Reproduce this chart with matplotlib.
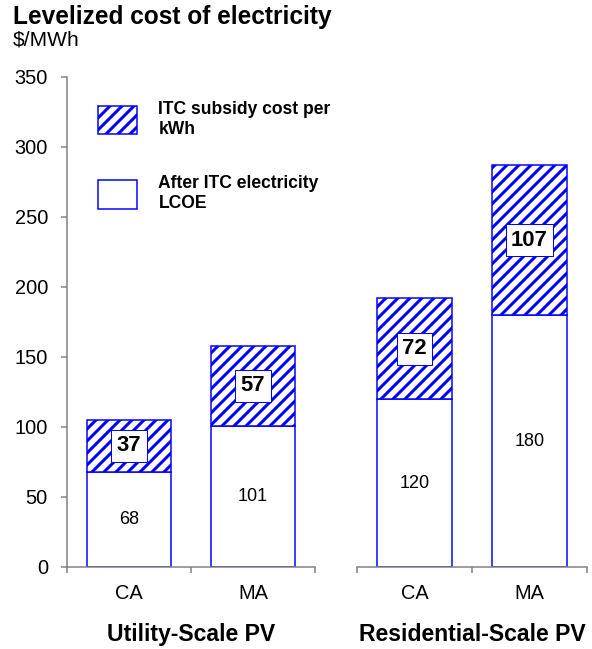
import numpy as np
import matplotlib
matplotlib.use("Agg")
import matplotlib.pyplot as plt
from matplotlib.patches import Patch

plt.rcParams['font.family'] = ['Liberation Sans', 'DejaVu Sans']
plt.rcParams['hatch.linewidth'] = 3.0

# levelized cost, $/MWh
states = ["CA", "MA"]
groups = ["Utility-Scale PV", "Residential-Scale PV"]
after_itc = [[68, 101], [120, 180]]
itc_subsidy = [[37, 57], [72, 107]]

blue = "#0000ff"
grey = "#808080"

W, H, DPI = 592, 649, 72
fig = plt.figure(figsize=(W / DPI, H / DPI), dpi=DPI)

# axes boxes in pixels: left, width
boxes = [(67, 248), (357, 230)]
widths = [0.685, 0.66]
y0, y1 = 567, 77

axes = []
for gi, (left, w) in enumerate(boxes):
    ax = fig.add_axes([left / W, (H - y0) / H, w / W, (y0 - y1) / H])
    axes.append(ax)
    x = np.arange(len(states))
    base = after_itc[gi]
    top = itc_subsidy[gi]
    ax.bar(x, base, widths[gi], color="white", edgecolor=blue, linewidth=1.5)
    ax.bar(x, top, widths[gi], bottom=base, color="white", edgecolor=blue,
           linewidth=1.5, hatch="//")
    for xi, b, t in zip(x, base, top):
        ax.text(xi, b / 2, str(b), ha="center", va="center", fontsize=18)
        ax.text(xi, b + t / 2, str(t), ha="center", va="center", fontsize=22,
                fontweight="bold",
                bbox=dict(boxstyle="square,pad=0.25", fc="white", ec=blue, lw=1))

    ax.set_xlim(-0.5, len(states) - 0.5)
    ax.set_ylim(0, 350)
    ax.set_xticks(np.arange(len(states) + 1) - 0.5)
    ax.set_xticklabels([])
    ax.set_xticks(x, minor=True)
    ax.set_xticklabels(states, minor=True, fontsize=20)
    ax.tick_params(axis="x", which="major", direction="out", length=6,
                   width=1.5, color=grey)
    ax.tick_params(axis="x", which="minor", length=0, pad=17)
    ax.set_xlabel(groups[gi], fontsize=23, fontweight="bold", labelpad=20)

    for s in ["top", "right"]:
        ax.spines[s].set_visible(False)
    ax.spines["bottom"].set_color(grey)
    ax.spines["bottom"].set_linewidth(1.5)
    if gi == 0:
        ax.spines["left"].set_color(grey)
        ax.spines["left"].set_linewidth(1.5)
        ax.set_yticks(np.arange(0, 351, 50))
        ax.tick_params(axis="y", direction="out", length=6, width=1.5,
                       color=grey, labelsize=20, pad=13)
    else:
        ax.spines["left"].set_visible(False)
        ax.set_yticks([])

handles = [Patch(facecolor="white", edgecolor=blue, hatch="//", linewidth=1.5),
           Patch(facecolor="white", edgecolor=blue, linewidth=1.5)]
labels = ["ITC subsidy cost per\nkWh", "After ITC electricity\nLCOE"]
axes[0].legend(handles, labels, loc="upper left", bbox_to_anchor=(0.125, 0.951),
               frameon=False, borderpad=0, borderaxespad=0,
               handlelength=2.2, handleheight=2.1,
               handletextpad=1.25, labelspacing=2.15,
               prop={"weight": "bold", "size": 17.5})

fig.text(13 / W, 1 - 17 / H, "Levelized cost of electricity", fontsize=24.5,
         fontweight="bold", ha="left", va="center")
fig.text(13 / W, 1 - 40 / H, "$/MWh", fontsize=21, ha="left", va="center")

fig.savefig("out.png", dpi=DPI)
